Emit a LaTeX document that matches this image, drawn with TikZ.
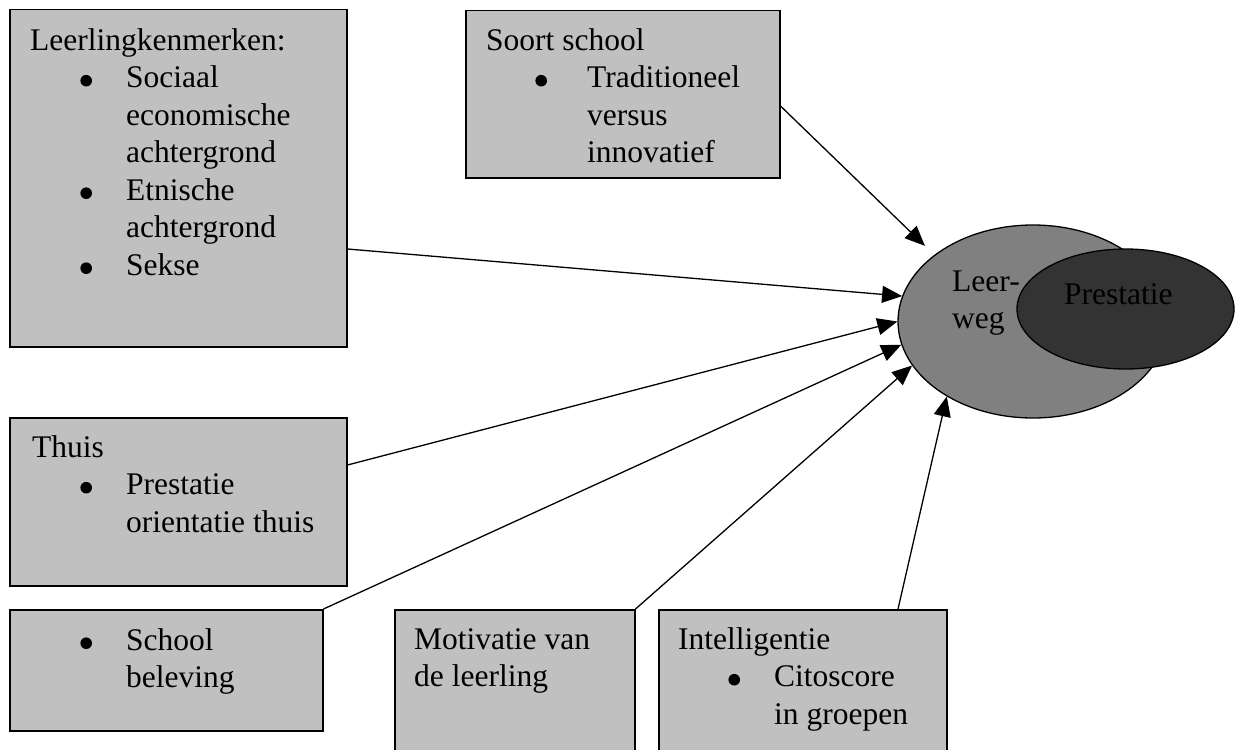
\documentclass[tikz,border=0pt]{standalone}
\usepackage{fontspec}
\setmainfont{Liberation Serif}
\usetikzlibrary{arrows.meta,shapes.geometric,calc}
\definecolor{boxgray}{HTML}{C0C0C0}
\definecolor{ellgray}{HTML}{808080}
\definecolor{darkell}{HTML}{333333}
\newcommand{\bdot}{\tikz[x=1pt,y=1pt,baseline=0pt]{\useasboundingbox (0,0) rectangle (12,13); \fill (6,7) circle (5.8pt);}}
\newcommand{\bul}[2]{\makebox[#1][l]{\hspace*{#2}\bdot}}
\tikzset{
  box/.style={draw, fill=boxgray, line width=1.5pt, anchor=north west, inner sep=0pt},
  txt/.style={anchor=north west, inner sep=0pt, align=left, font=\fontsize{31.5}{37.5}\selectfont},
  arr/.style={-{Triangle[length=20pt,width=17pt]}, line width=1.3pt},
}
\begin{document}
\begin{tikzpicture}[x=1pt,y=-1pt]
\useasboundingbox (0,0) rectangle (1238,749);
% boxes
\node[box, minimum width=337pt, minimum height=337pt] (b1) at (9,9) {};
\node[box, minimum width=314pt, minimum height=167pt] (b2) at (465,10) {};
\node[box, minimum width=337pt, minimum height=168pt] (b3) at (9,417) {};
\node[box, minimum width=313pt, minimum height=121pt] (b4) at (9,609) {};
\node[box, minimum width=240pt, minimum height=160pt] (b5) at (394,609) {};
\node[box, minimum width=288pt, minimum height=160pt] (b6) at (658,609) {};
% texts
\node[txt] (t1) at (30,23.75) {\strut Leerlingkenmerken:\\
\bul{96pt}{50pt}Sociaal\\
\hspace*{96pt}economische\\
\hspace*{96pt}achtergrond\\
\bul{96pt}{50pt}Etnische\\
\hspace*{96pt}achtergrond\\
\bul{96pt}{50pt}Sekse};
\node[txt] (t2) at (486,23.75) {\strut Soort school\\
\bul{101pt}{49pt}Traditioneel\\
\hspace*{101pt}versus\\
\hspace*{101pt}innovatief};
\node[txt] (t3) at (32,430.75) {\strut Thuis\\
\bul{94pt}{48pt}Prestatie\\
\hspace*{94pt}orientatie thuis};
\node[txt] (t4) at (32,623.75) {\strut\bul{94pt}{48pt}School\\
\hspace*{94pt}beleving};
\node[txt] (t5) at (414,622.75) {\strut Motivatie van\\
de leerling};
\node[txt] (t6) at (678,622.75) {\strut Intelligentie\\
\bul{96pt}{50pt}Citoscore\\
\hspace*{96pt}in groepen};
% ellipses
\node[ellipse, draw, fill=ellgray, line width=1.3pt, minimum width=270pt, minimum height=193pt, inner sep=0pt] (lw) at (1033,321.5) {};
\node[txt] (tlw) at (952,264.75) {\strut Leer-\\weg};
\node[ellipse, draw, fill=darkell, line width=1.3pt, minimum width=217pt, minimum height=120pt, inner sep=0pt] (pr) at (1125.5,309) {};
\node[txt] (tpr) at (1064,277.75) {\strut Prestatie};
% connector start points
\coordinate (s1) at ($(b2.north east)+(0,96)$);
\coordinate (s2) at ($(b1.north east)+(0,240)$);
\coordinate (s3) at ($(b3.north east)+(0,48)$);
\coordinate (s6) at ($(b6.north west)+(240,0)$);
% arrows
\draw[arr, shorten >=13pt] (s1) -- (lw.146.85);
\draw[arr] (s2) -- (lw.169.7);
\draw[arr] (s3) -- (lw.180);
\draw[arr] (b4.north east) -- (lw.190.7);
\draw[arr] (b5.north east) -- (lw.200.1);
\draw[arr] (s6) -- (lw.221.6);
\end{tikzpicture}
\end{document}
